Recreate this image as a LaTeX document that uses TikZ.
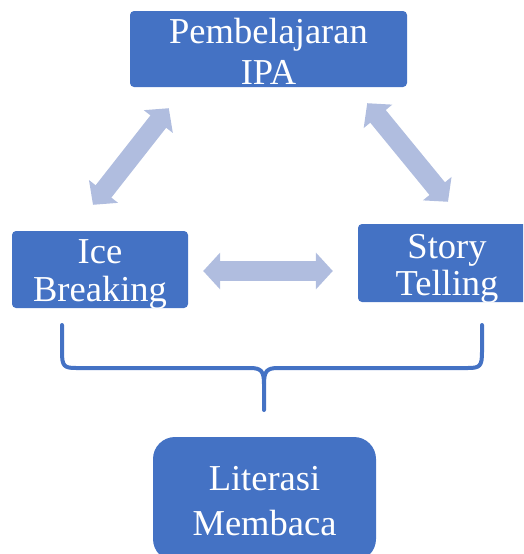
\documentclass[tikz,border=0pt]{standalone}
\usepackage{fontspec}
\setmainfont{Liberation Serif}
\usetikzlibrary{arrows.meta}

\definecolor{boxblue}{RGB}{68,114,196}
\definecolor{arrowblue}{RGB}{176,189,223}

\tikzset{
    topicbox/.style={fill=boxblue, rounded corners=4pt, inner sep=0pt},
    topictext/.style={text=white, align=center, inner sep=0pt, font={\fontsize{36.5}{37.5}\selectfont}},
    dblarrow/.style={draw=arrowblue, line width=20pt,
        {Triangle[width=36pt,length=17pt]}-{Triangle[width=36pt,length=17pt]}}
}

\begin{document}
\begin{tikzpicture}[line cap=round, line join=round, x=1pt, y=1pt]

        \path[use as bounding box, clip] (0,0) rectangle (523,-554);

        \node[topicbox, minimum width=277pt, minimum height=76pt,
            label={[topictext, yshift=-2pt, font={\fontsize{36.5}{40.7}\selectfont}]center:{Pembelajaran\\IPA}}] (ipa) at (268.5,-49) {};
        \node[topicbox, minimum width=176pt, minimum height=77pt,
            label={[topictext, yshift=-5pt]center:{Ice\\Breaking}}] (ice) at (100,-269.5) {};
        \node[topicbox, minimum width=178pt, minimum height=78pt,
            label={[topictext, yshift=-6pt]center:{Story\\Telling}}] (story) at (447,-263) {};
        \node[topicbox, rounded corners=22pt, minimum width=223pt, minimum height=124pt,
            label={[topictext, yshift=-2pt, font={\fontsize{36.5}{44.4}\selectfont}]center:{Literasi\\Membaca}}] (lit) at (264.5,-499) {};

        \draw[dblarrow] ([shift={(-7,26)}]ice.north) -- ([shift={(39,-21)}]ipa.south west);
        \draw[dblarrow] ([shift={(-40,-16)}]ipa.south east) -- ([shift={(1,22)}]story.north);
        \draw[dblarrow] ([shift={(15,-1.5)}]ice.east) -- ([shift={(-25,-8)}]story.west);

        % brace over the two methods
        \draw[boxblue, line width=4pt]
            (62,-325) -- (62,-352) .. controls (62,-366) and (64,-368) .. (76,-368)
            -- (250,-368) .. controls (261,-368) and (264,-371) .. (264,-384) -- (264,-410);
        \draw[boxblue, line width=4pt]
            (482,-325) -- (482,-352) .. controls (482,-366) and (480,-368) .. (468,-368)
            -- (278,-368) .. controls (267,-368) and (264,-371) .. (264,-384);

    \end{tikzpicture}
\end{document}
